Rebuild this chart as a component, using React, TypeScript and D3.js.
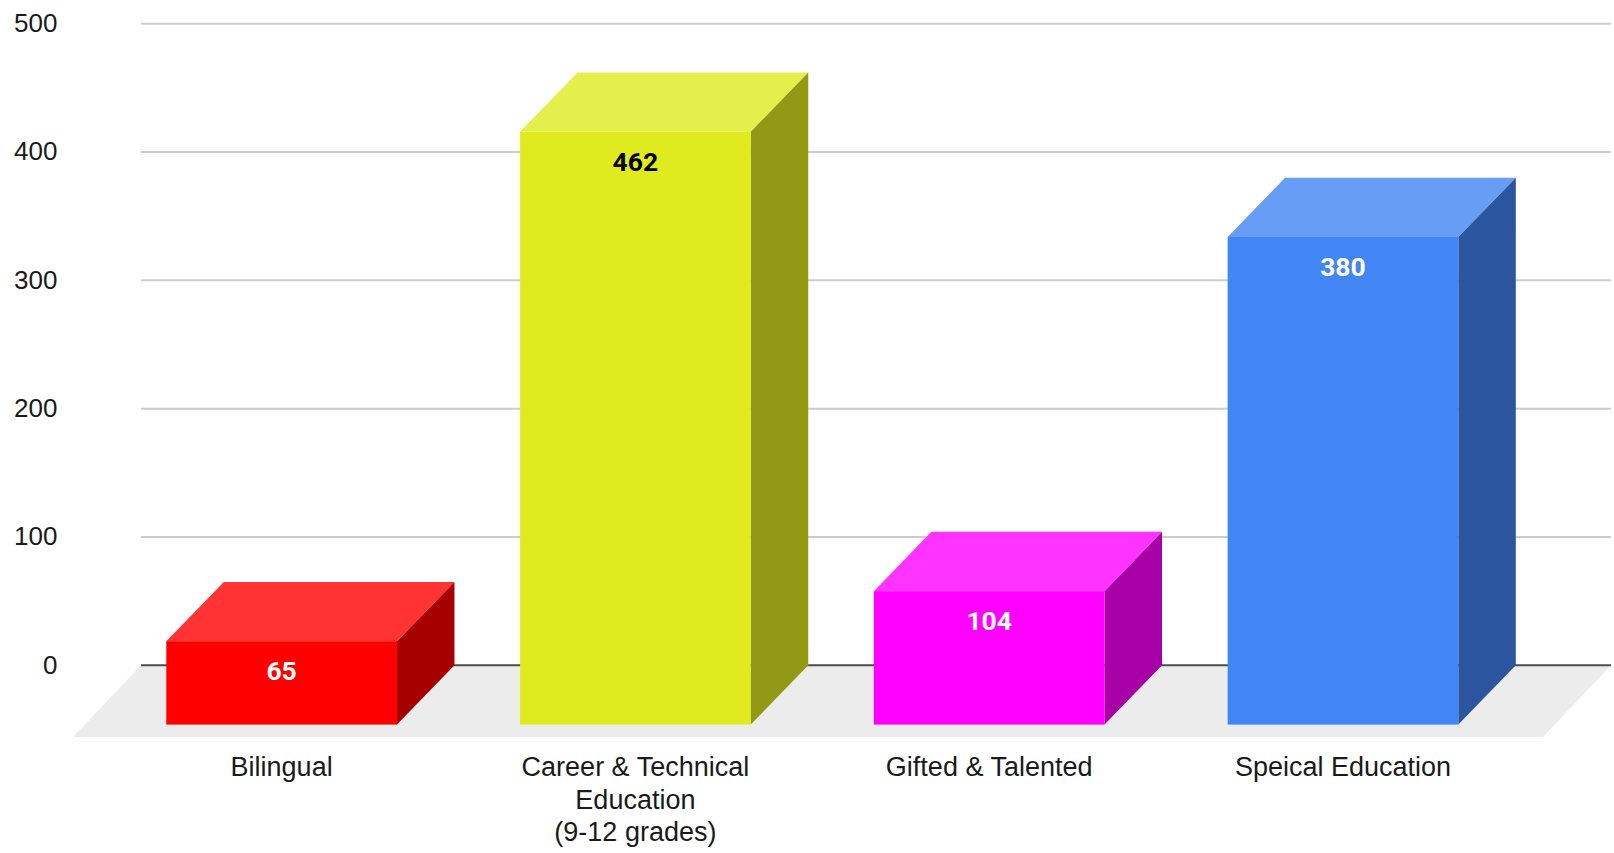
import React from "react";
import * as d3 from "d3";

const categories = ["Bilingual", "Career & Technical Education (9-12 grades)", "Gifted & Talented", "Speical Education"];
const categoryLines = [["Bilingual"], ["Career & Technical", "Education", "(9-12 grades)"], ["Gifted & Talented"], ["Speical Education"]];
const values = [65, 462, 104, 380];
const yTicks = [0, 100, 200, 300, 400, 500];

const frontColors = ["#ff0000", "#e0eb1f", "#ff00ff", "#4285f4"];
const topColors = ["#ff3333", "#e5ef4c", "#ff33ff", "#689df6"];
const sideColors = ["#a60000", "#929914", "#a600a6", "#2b569f"];
const labelColors = ["#ffffff", "#000000", "#ffffff", "#ffffff"];

const W = 1614;
const H = 853;
const DX = 57.5;
const DY = 59.3;

export default function App() {
  const y = d3.scaleLinear().domain([0, 500]).range([665.3, 23.7]);
  const x = d3.scaleBand<string>().domain(categories).range([166.3, 1458.3]).paddingInner(0.348).paddingOuter(0);
  const bw = x.bandwidth();
  const sans = "'Liberation Sans', Arial, sans-serif";
  const poly = (pts: [number, number][]) => d3.line()(pts) + "Z";
  const floorTop = y(0);
  const floorBottom = floorTop + 71.7;

  return (
    <svg width={W} height={H} viewBox={`0 0 ${W} ${H}`} style={{ position: "absolute", left: 0, top: 0, display: "block", background: "#fff" }}>
      <path d={poly([[141, floorTop], [1611, floorTop], [1543, floorBottom], [73, floorBottom]])} fill="#ececec" />
      {yTicks.map((t) => (
        <g key={t}>
          <line x1={141} x2={1611} y1={y(t)} y2={y(t)} stroke={t === 0 ? "#4d4d4d" : "#cccccc"} strokeWidth={2} />
          <text x={57.5} y={y(t) - 0.7} dy="0.35em" textAnchor="end" fontFamily={sans} fontSize={26} fill="#1a1a1a">{t}</text>
        </g>
      ))}
      {categories.map((c, i) => {
        const x0 = x(c) as number;
        const x1 = x0 + bw;
        const top = y(values[i]) + DY;
        const bottom = y(0) + DY;
        return (
          <g key={c}>
            <path d={poly([[x0, top], [x1, top], [x1 + DX, top - DY], [x0 + DX, top - DY]])} fill={topColors[i]} />
            <path d={poly([[x1, top], [x1 + DX, top - DY], [x1 + DX, bottom - DY], [x1, bottom]])} fill={sideColors[i]} />
            <rect x={x0} y={top} width={bw} height={bottom - top} fill={frontColors[i]} />
            <text x={x0 + bw / 2} y={top + 29.6} dy="0.36em" textAnchor="middle" fontFamily="Roboto, sans-serif" fontWeight={700} fontSize={26.5} fill={labelColors[i]}>{values[i]}</text>
            {categoryLines[i].map((line, j) => (
              <text key={line} x={x0 + bw / 2} y={776 + j * 32.5} textAnchor="middle" fontFamily={sans} fontSize={27} fill="#1a1a1a">{line}</text>
            ))}
          </g>
        );
      })}
    </svg>
  );
}
